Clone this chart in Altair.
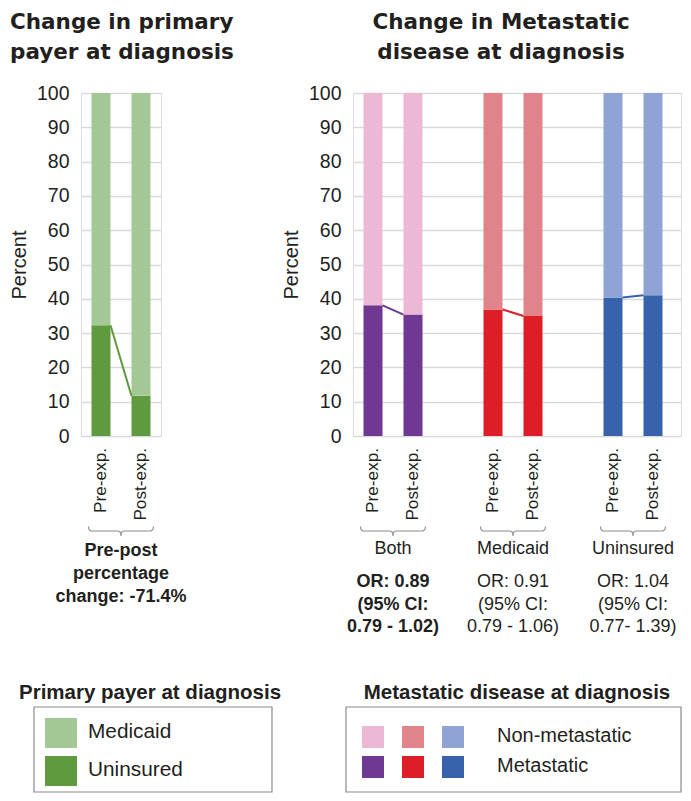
import altair as alt
import pandas as pd

# ---------------- data ----------------
periods = ["Pre-exp.", "Post-exp."]

payer_names = ["Medicaid", "Uninsured"]
payer_colors = ["#a3c795", "#5f9a3f"]
payer_uninsured_pct = [32.3, 11.7]
payer_note = ["Pre-post", "percentage", "change: -71.4%"]

groups = ["Both", "Medicaid", "Uninsured"]
metastatic_pre = [38.1, 36.9, 40.4]
metastatic_post = [35.4, 35.0, 41.0]
nonmet_colors = ["#edb8d4", "#e0838b", "#8fa3d4"]
met_colors = ["#6f3893", "#de1e26", "#3762ac"]
met_names = ["Non-metastatic", "Metastatic"]
or_lines = [
    ["OR: 0.89", "(95% CI:", "0.79 - 1.02)"],
    ["OR: 0.91", "(95% CI:", "0.79 - 1.06)"],
    ["OR: 1.04", "(95% CI:", "0.77- 1.39)"],
]
or_bold = [True, False, False]

# ---------------- styling ----------------
TXT = "#231f20"
FONT = "Liberation Sans"
BAR = 19
HALF = 0.2375  # half of a bar in slot units (19px bar in 40px slot)
GRID = "#d9d9d9"
BRACE = ("M -1 -0.14 C -1 -0.03 -0.96 0 -0.88 0 L -0.1 0 C -0.04 0 0 0.04 0 0.15 "
         "C 0 0.04 0.04 0 0.1 0 L 0.88 0 C 0.96 0 1 -0.03 1 -0.14")
one = pd.DataFrame({"k": [0]})


def yenc(field):
    return alt.Y(field, type="quantitative",
                 scale=alt.Scale(domain=[0, 100], nice=False, padding=0),
                 axis=alt.Axis(values=list(range(0, 101, 10)), title="Percent", grid=True,
                               gridColor=GRID, gridWidth=1.6, domain=False, ticks=False,
                               labelFontSize=19.5, labelPadding=12, labelColor=TXT,
                               titleFontSize=20, titleFontWeight="normal", titleColor=TXT,
                               titlePadding=7))


def xenc(field, dom):
    return alt.X(field, type="quantitative",
                 scale=alt.Scale(domain=dom, nice=False, zero=False, padding=0), axis=None)


# ---------------- left panel ----------------
LDOM = [-0.5, 1.5]
lrows = []
for i, v in enumerate(payer_uninsured_pct):
    lrows.append({"pos": i, "y0": 0, "y1": v, "color": payer_colors[1]})
    lrows.append({"pos": i, "y0": v, "y1": 100, "color": payer_colors[0]})
left_bars_df = pd.DataFrame(lrows)
left_conn_df = pd.DataFrame({"x": [0 + HALF, 1 - HALF], "y": payer_uninsured_pct})
left_tick_df = pd.DataFrame({"pos": [0, 1], "label": periods})
left_mid_df = pd.DataFrame({"pos": [0.5], "note": [payer_note]})

l_bars = alt.Chart(left_bars_df).mark_bar(size=BAR).encode(
    x=xenc("pos", LDOM), y=yenc("y0"), y2="y1", color=alt.Color("color:N", scale=None))
l_conn = alt.Chart(left_conn_df).mark_line(color=payer_colors[1], strokeWidth=2).encode(
    x=xenc("x", LDOM), y=yenc("y"))
l_ticks = alt.Chart(left_tick_df).mark_text(angle=270, align="right", baseline="middle",
                                            fontSize=17.2, color=TXT).encode(
    x=xenc("pos", LDOM), y=alt.value(355), text="label:N")
l_brace = alt.Chart(left_mid_df).mark_point(shape=BRACE, size=4225, filled=False, opacity=1,
                                            stroke="#8c8c8c", strokeWidth=1.1).encode(
    x=xenc("pos", LDOM), y=alt.value(438))
l_note = alt.Chart(left_mid_df).mark_text(align="center", baseline="top", fontSize=18,
                                          fontWeight="bold", lineHeight=23, color=TXT).encode(
    x=xenc("pos", LDOM), y=alt.value(449), text="note")

l_leg_title = alt.Chart(one).mark_text(text="Primary payer at diagnosis", align="left", baseline="middle",
                                       fontSize=20.5, fontWeight="bold", color=TXT).encode(
    x=alt.value(-62), y=alt.value(600))
l_leg_box = alt.Chart(one).mark_rect(fillOpacity=0, stroke="#8a8a8a", strokeWidth=1.2).encode(
    x=alt.value(-47), x2=alt.value(191), y=alt.value(614), y2=alt.value(699))
l_leg_sw1 = alt.Chart(one).mark_rect(color=payer_colors[0]).encode(
    x=alt.value(-36), x2=alt.value(-4), y=alt.value(625), y2=alt.value(655))
l_leg_sw2 = alt.Chart(one).mark_rect(color=payer_colors[1]).encode(
    x=alt.value(-36), x2=alt.value(-4), y=alt.value(663), y2=alt.value(693))
l_leg_t1 = alt.Chart(one).mark_text(text=payer_names[0], align="left", baseline="middle",
                                    fontSize=20.8, color=TXT).encode(x=alt.value(7), y=alt.value(639))
l_leg_t2 = alt.Chart(one).mark_text(text=payer_names[1], align="left", baseline="middle",
                                    fontSize=20.8, color=TXT).encode(x=alt.value(7), y=alt.value(677))

left = alt.layer(l_bars, l_conn, l_ticks, l_brace, l_note, l_leg_title, l_leg_box,
                 l_leg_sw1, l_leg_sw2, l_leg_t1, l_leg_t2).properties(
    width=80, height=343,
    title=alt.TitleParams(text=["Change in primary", "payer at diagnosis"], font="DejaVu Sans",
                          fontSize=21.5, fontWeight="bold", color=TXT, anchor="start",
                          frame="group", dx=-71, offset=20, lineHeight=30))

# ---------------- right panel ----------------
RDOM = [-0.5, 7.7]
rrows, crow, trows = [], [], []
for gi, g in enumerate(groups):
    vals = [metastatic_pre[gi], metastatic_post[gi]]
    for pi, v in enumerate(vals):
        pos = gi * 3 + pi
        rrows.append({"pos": pos, "y0": 0, "y1": v, "color": met_colors[gi]})
        rrows.append({"pos": pos, "y0": v, "y1": 100, "color": nonmet_colors[gi]})
        trows.append({"pos": pos, "label": periods[pi]})
    crow.append({"grp": g, "x": gi * 3 + HALF, "y": vals[0], "color": met_colors[gi]})
    crow.append({"grp": g, "x": gi * 3 + 1 - HALF, "y": vals[1], "color": met_colors[gi]})
right_bars_df = pd.DataFrame(rrows)
right_conn_df = pd.DataFrame(crow)
right_tick_df = pd.DataFrame(trows)
right_grp_df = pd.DataFrame({"pos": [gi * 3 + 0.5 for gi in range(len(groups))],
                             "label": groups, "orl": or_lines, "bold": or_bold})
swatch_df = pd.DataFrame({"col": list(range(len(groups))), "light": nonmet_colors, "dark": met_colors})

r_bars = alt.Chart(right_bars_df).mark_bar(size=BAR).encode(
    x=xenc("pos", RDOM), y=yenc("y0"), y2="y1", color=alt.Color("color:N", scale=None))
r_conn = alt.Chart(right_conn_df).mark_line(strokeWidth=2).encode(
    x=xenc("x", RDOM), y=yenc("y"), detail="grp:N", color=alt.Color("color:N", scale=None))
r_ticks = alt.Chart(right_tick_df).mark_text(angle=270, align="right", baseline="middle",
                                             fontSize=17.2, color=TXT).encode(
    x=xenc("pos", RDOM), y=alt.value(355), text="label:N")
r_brace = alt.Chart(right_grp_df).mark_point(shape=BRACE, size=4225, filled=False, opacity=1,
                                             stroke="#8c8c8c", strokeWidth=1.1).encode(
    x=xenc("pos", RDOM), y=alt.value(438))
r_grp = alt.Chart(right_grp_df).mark_text(align="center", baseline="middle", fontSize=18, color=TXT).encode(
    x=xenc("pos", RDOM), y=alt.value(456), text="label:N")
r_or_b = alt.Chart(right_grp_df).transform_filter("datum.bold").mark_text(
    align="center", baseline="top", fontSize=18, fontWeight="bold", lineHeight=22.5, color=TXT).encode(
    x=xenc("pos", RDOM), y=alt.value(480), text="orl")
r_or_n = alt.Chart(right_grp_df).transform_filter("!datum.bold").mark_text(
    align="center", baseline="top", fontSize=18, lineHeight=22.5, color=TXT).encode(
    x=xenc("pos", RDOM), y=alt.value(480), text="orl")

r_leg_title = alt.Chart(one).mark_text(text="Metastatic disease at diagnosis", align="center",
                                       baseline="middle", fontSize=20.5, fontWeight="bold", color=TXT).encode(
    x=alt.value(164), y=alt.value(600))
r_leg_box = alt.Chart(one).mark_rect(fillOpacity=0, stroke="#8a8a8a", strokeWidth=1.2).encode(
    x=alt.value(-7), x2=alt.value(328), y=alt.value(614), y2=alt.value(699))
r_sw_l = alt.Chart(swatch_df).mark_square(size=484, opacity=1).encode(
    x=xenc("col", RDOM), y=alt.value(644), color=alt.Color("light:N", scale=None))
r_sw_d = alt.Chart(swatch_df).mark_square(size=484, opacity=1).encode(
    x=xenc("col", RDOM), y=alt.value(674), color=alt.Color("dark:N", scale=None))
r_leg_t1 = alt.Chart(one).mark_text(text=met_names[0], align="left", baseline="middle",
                                    fontSize=20, color=TXT).encode(x=alt.value(144), y=alt.value(643))
r_leg_t2 = alt.Chart(one).mark_text(text=met_names[1], align="left", baseline="middle",
                                    fontSize=20, color=TXT).encode(x=alt.value(144), y=alt.value(673))

right = alt.layer(r_bars, r_conn, r_ticks, r_brace, r_grp, r_or_b, r_or_n, r_leg_title, r_leg_box,
                  r_sw_l, r_sw_d, r_leg_t1, r_leg_t2).properties(
    width=328, height=343,
    title=alt.TitleParams(text=["Change in Metastatic", "disease at diagnosis"], font="DejaVu Sans",
                          fontSize=21.5, fontWeight="bold", color=TXT, anchor="middle",
                          frame="group", dx=-16, offset=20, lineHeight=30))

chart = alt.hconcat(left, right, spacing=192, bounds="flush",
                    padding={"top": 3, "left": 0, "right": 0, "bottom": 0}).configure_view(
    strokeWidth=0).configure(font=FONT)

chart.save("out.html", embed_options={"renderer": "svg", "actions": False})
